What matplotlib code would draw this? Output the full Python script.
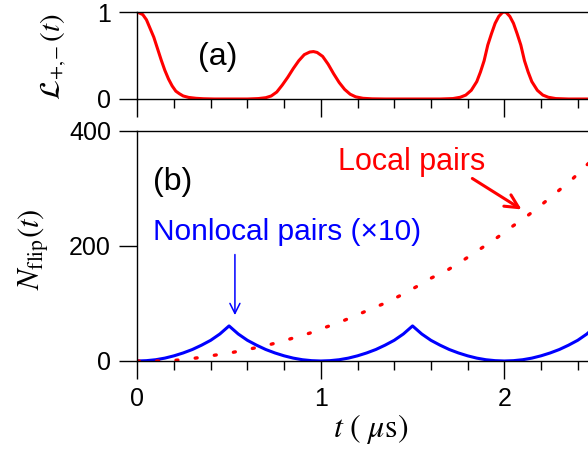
import matplotlib
matplotlib.use('Agg')
import matplotlib.pyplot as plt
from matplotlib.ticker import MultipleLocator

# ---- data ----
# panel (a): L_{+,-}(t)
t_a = [0, 0.03, 0.05, 0.07, 0.09, 0.11, 0.13, 0.15, 0.17, 0.19, 0.21, 0.23, 0.25,
       0.28, 0.32, 0.36, 0.42, 0.6, 0.66, 0.7, 0.73, 0.76, 0.79, 0.82, 0.85, 0.88,
       0.91, 0.94, 0.96, 0.98, 1.01, 1.04, 1.07, 1.1, 1.13, 1.16, 1.19, 1.23, 1.28,
       1.35, 1.65, 1.72, 1.76, 1.79, 1.82, 1.85, 1.87, 1.89, 1.91, 1.93, 1.95, 1.97,
       1.99, 2.0, 2.01, 2.03, 2.05, 2.07, 2.09, 2.11, 2.13, 2.15, 2.18, 2.21, 2.24,
       2.28, 2.35, 2.5]
L_a = [1.0, 0.97, 0.91, 0.81, 0.71, 0.58, 0.45, 0.33, 0.23, 0.15, 0.09, 0.06, 0.035,
       0.018, 0.008, 0.003, 0.0, 0.0, 0.005, 0.015, 0.035, 0.08, 0.16, 0.25, 0.35, 0.44,
       0.51, 0.54, 0.545, 0.535, 0.49, 0.40, 0.29, 0.19, 0.11, 0.055, 0.025, 0.008, 0.002,
       0.0, 0.0, 0.005, 0.02, 0.045, 0.10, 0.2, 0.31, 0.44, 0.62, 0.75, 0.87, 0.95,
       0.995, 1.0, 0.995, 0.95, 0.87, 0.75, 0.62, 0.44, 0.31, 0.2, 0.10, 0.045, 0.02,
       0.005, 0.0, 0.0]

# panel (b): nonlocal pairs (x10), solid blue
t_nl = [0, 0.05, 0.1, 0.15, 0.2, 0.25, 0.3, 0.35, 0.4, 0.45, 0.5,
        0.55, 0.6, 0.65, 0.7, 0.75, 0.8, 0.85, 0.9, 0.95, 1.0,
        1.05, 1.1, 1.15, 1.2, 1.25, 1.3, 1.35, 1.4, 1.45, 1.5,
        1.55, 1.6, 1.65, 1.7, 1.75, 1.8, 1.85, 1.9, 1.95, 2.0,
        2.05, 2.1, 2.15, 2.2, 2.25, 2.3, 2.35, 2.4, 2.45, 2.5]
N_nl = [0, 0.6, 2.2, 5, 9, 14, 20, 27.5, 36, 47, 61,
        47, 36, 27.5, 20, 14, 9, 5, 2.2, 0.6, 0,
        0.6, 2.2, 5, 9, 14, 20, 27.5, 36, 47, 61,
        47, 36, 27.5, 20, 14, 9, 5, 2.2, 0.6, 0,
        0.6, 2.2, 5, 9, 14, 20, 27.5, 36, 47, 61]

# panel (b): local pairs, red dotted
t_loc = [0, 0.1, 0.18, 0.27, 0.35, 0.43, 0.52, 0.6, 0.69, 0.77, 0.85, 0.94, 1.02,
         1.1, 1.19, 1.27, 1.36, 1.44, 1.52, 1.6, 1.69, 1.78, 1.86, 1.95, 2.03, 2.12,
         2.2, 2.28, 2.37, 2.45, 2.5]
N_loc = [0, 0, 0.5, 3, 6.5, 10.5, 15, 20, 26, 32.5, 40, 48.5, 58,
         67, 79, 90, 102, 115, 129, 144, 158, 176, 193, 212, 231, 251,
         271, 292, 316, 341, 356]

plt.rcParams['font.family'] = ['Liberation Sans', 'DejaVu Sans']
plt.rcParams['mathtext.fontset'] = 'stix'

W, H = 588., 454.
x0 = 137.3      # pixel of t=0
ppu = 183.5     # pixels per microsecond
fig = plt.figure(figsize=(W / 100, H / 100), dpi=100)
ax_a = fig.add_axes([x0 / W, 1 - 99 / H, 2.5 * ppu / W, 87 / H])
ax_b = fig.add_axes([x0 / W, 1 - 361 / H, 2.5 * ppu / W, 230 / H])

for ax in (ax_a, ax_b):
    ax.set_xlim(0, 2.5)
    ax.xaxis.set_major_locator(MultipleLocator(1))
    ax.xaxis.set_minor_locator(MultipleLocator(0.2))
    ax.tick_params(which='major', direction='out', length=13, width=1, labelsize=18, pad=6)
    ax.tick_params(which='minor', direction='out', length=6.5, width=1)
    ax.tick_params(axis='y', which='minor', left=False)
    for s in ax.spines.values():
        s.set_linewidth(1)

# (a)
ax_a.plot(t_a, L_a, color='red', lw=2.2)
ax_a.set_ylim(0, 1)
ax_a.set_yticks([0, 1])
ax_a.tick_params(axis='x', labelbottom=False)
ax_a.text(0.44, 0.48, '(a)', fontsize=23, ha='center', va='center')

# (b)
ax_b.plot(t_nl, N_nl, color='blue', lw=2.2)
ax_b.plot(t_loc, N_loc, color='red', lw=2.4, linestyle=(0, (0.6, 5.2)),
          dash_capstyle='round')
ax_b.set_ylim(0, 400)
ax_b.set_yticks([0, 200, 400])
ax_b.text(0.195, 311, '(b)', fontsize=23, ha='center', va='center')
ax_b.text(0.086, 210, 'Nonlocal pairs (\u00d710)', color='blue', fontsize=21.5,
          ha='left', va='baseline')
ax_b.text(1.094, 332, 'Local pairs', color='red', fontsize=22,
          ha='left', va='baseline')
ax_b.annotate('', xy=(2.107, 261), xytext=(1.813, 320),
              arrowprops=dict(arrowstyle='->', color='red', lw=2.2, mutation_scale=24))
ax_b.annotate('', xy=(0.532, 75), xytext=(0.532, 190),
              arrowprops=dict(arrowstyle='->', color='blue', lw=1.1, mutation_scale=18))

fig.text(54 / W, 1 - 56.5 / H, r'$\mathcal{L}_{+,\!\!-}(t)$', fontsize=21,
         rotation=90, ha='center', va='center')
fig.text(34 / W, 1 - 249 / H, r'$N_{\mathrm{flip}}(t)$', fontsize=22,
         rotation=90, ha='center', va='center')
fig.text(371 / W, 1 - 429 / H, r'$t\ (\ \mu\mathrm{s})$', fontsize=23,
         ha='center', va='center')

fig.savefig('out.png', dpi=100)
